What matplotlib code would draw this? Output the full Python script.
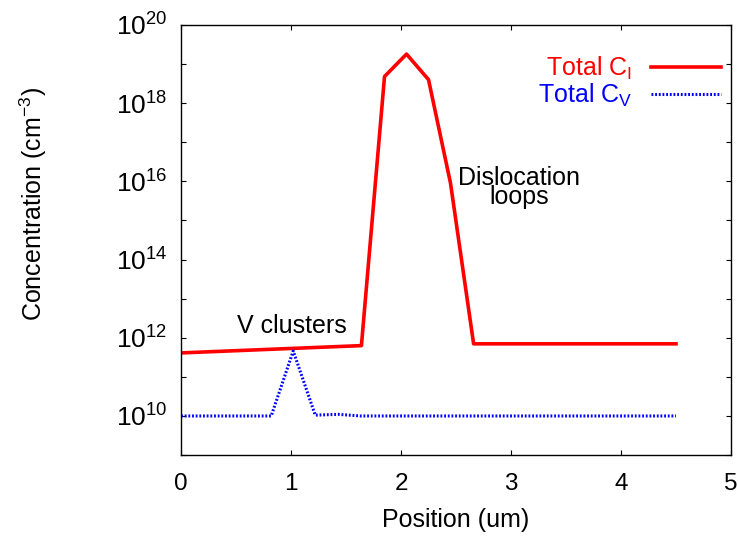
import matplotlib
matplotlib.use("Agg")
import matplotlib.pyplot as plt
import numpy as np
from matplotlib.ticker import FixedLocator, FuncFormatter

plt.rcParams["font.family"] = ["Liberation Sans", "DejaVu Sans"]
plt.rcParams["mathtext.fontset"] = "custom"
plt.rcParams["mathtext.rm"] = "Liberation Sans"
plt.rcParams["mathtext.it"] = "Liberation Sans"
plt.rcParams["mathtext.default"] = "regular"

# Total interstitial concentration vs depth
pos_i = [0.0, 1.64, 1.85, 2.05, 2.25, 2.45, 2.66, 4.5]
conc_i = [4.1e11, 6.3e11, 4.8e18, 1.8e19, 4.0e18, 9.0e15, 7.0e11, 7.0e11]

# Total vacancy concentration vs depth
pos_v = [0.0, 0.82, 1.02, 1.22, 1.43, 1.63, 4.5]
conc_v = [1.0e10, 1.0e10, 4.6e11, 1.05e10, 1.1e10, 1.0e10, 1.0e10]

x_ticks = [0, 1, 2, 3, 4, 5]
y_exponents = list(range(9, 21))
labelled_exponents = [10, 12, 14, 16, 18, 20]

fig = plt.figure(figsize=(7.38, 5.36), dpi=100)
ax = fig.add_axes([0.2453, 0.151, 0.9905 - 0.2453, 0.9534 - 0.151])

ax.plot(pos_i, conc_i, color="#ff0000", lw=2.6, label=r"Total C$_{I}$")
ax.plot(pos_v, conc_v, color="#0000ff", lw=2.2, linestyle=(0, (0.6, 0.6)),
        label=r"Total C$_{V}$")

ax.set_yscale("log")
ax.set_xlim(0, 5)
ax.set_ylim(1e9, 1e20)
ax.set_xticks(x_ticks)
ax.yaxis.set_major_locator(FixedLocator([10.0 ** e for e in y_exponents]))
ax.yaxis.set_minor_locator(FixedLocator([]))


def exp_label(v, _):
    e = int(round(np.log10(v)))
    return r"$10^{%d}$" % e if e in labelled_exponents else ""


ax.yaxis.set_major_formatter(FuncFormatter(exp_label))
ax.tick_params(axis="both", which="both", direction="in", length=3.5, width=0.8,
               top=True, right=True)
ax.tick_params(axis="x", pad=13, labelsize=17.5)
ax.tick_params(axis="y", pad=10, labelsize=19)
for s in ax.spines.values():
    s.set_linewidth(1.0)

ax.set_xlabel("Position (um)", fontsize=18, va="center")
ax.xaxis.set_label_coords(0.5, -0.151)
ax.set_ylabel(r"Concentration (cm$^{-3}$)", fontsize=18, va="center")
ax.yaxis.set_label_coords(-0.269, 0.583)

ax.text(1.01, 10 ** 12.29, "V clusters", fontsize=18, ha="center", va="center")
ax.text(3.07, 10 ** 15.85, "Dislocation\nloops", fontsize=18, ha="center",
        va="center", multialignment="center", linespacing=0.72)

leg = ax.legend(loc="upper right", bbox_to_anchor=(1.0, 0.955), frameon=False,
                markerfirst=False, fontsize=18, handlelength=2.8,
                handletextpad=0.76, labelspacing=0.0, borderaxespad=0.0)
for t, c in zip(leg.get_texts(), ["#ff0000", "#0000ff"]):
    t.set_color(c)

fig.savefig("out.png", dpi=100)
